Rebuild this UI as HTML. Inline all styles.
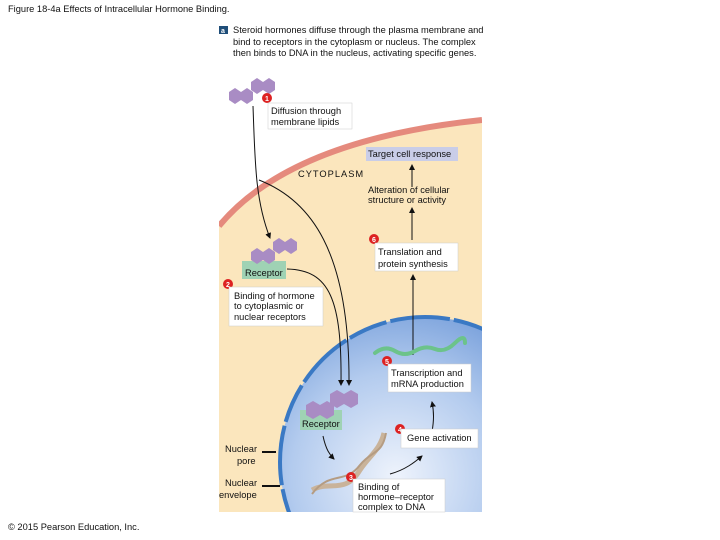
<!DOCTYPE html>
<html><head><meta charset="utf-8"><style>
html,body{margin:0;width:720px;height:540px;background:#fff;overflow:hidden;font-family:"Liberation Sans",sans-serif}
svg{position:absolute;left:0;top:0}
text{font-family:"Liberation Sans",sans-serif;font-size:9.3px;fill:#111}
text.n{font-size:7px;fill:#fff;font-weight:bold}
</style></head><body>
<svg width="720" height="540" viewBox="0 0 720 540">
<defs>
<radialGradient id="nuc" cx="0.4" cy="0.55" r="0.6">
<stop offset="0" stop-color="#eef3fc"/><stop offset="0.6" stop-color="#b3cbee"/><stop offset="1" stop-color="#7ba2dc"/>
</radialGradient>
<clipPath id="pan"><rect x="219" y="100" width="263" height="412"/></clipPath>
<marker id="ar" markerWidth="6" markerHeight="6" refX="5" refY="3" orient="auto"><path d="M0,0 L6,3 L0,6 z" fill="#111"/></marker>
</defs>
<text x="8" y="12">Figure 18-4a Effects of Intracellular Hormone Binding.</text>
<rect x="219" y="26" width="9" height="8" fill="#1f4e79"/><text class="n" x="221" y="33">a</text>
<text x="233" y="33">Steroid hormones diffuse through the plasma membrane and</text>
<text x="233" y="45">bind to receptors in the cytoplasm or nucleus. The complex</text>
<text x="233" y="56">then binds to DNA in the nucleus, activating specific genes.</text>
<g clip-path="url(#pan)">
<path d="M219,226 Q290,140 482,120 L482,512 L219,512 Z" fill="#fbe6bd"/>
<path d="M219,226 Q290,140 482,120" fill="none" stroke="#e58a7d" stroke-width="6"/>
<circle cx="425" cy="462" r="145" fill="url(#nuc)"/>
<circle cx="425" cy="462" r="145" fill="none" stroke="#3a79c4" stroke-width="4" stroke-dasharray="60 4 40 4"/>
</g>
<g fill="#a98cc4">
<polygon points="229,92 235,88 241,92 241,100 235,104 229,100"/>
<polygon points="241,92 247,88 253,92 253,100 247,104 241,100"/>
<polygon points="251,82 257,78 263,82 263,90 257,94 251,90"/>
<polygon points="263,82 269,78 275,82 275,90 269,94 263,90"/>
</g>
<circle cx="267" cy="98" r="5" fill="#d22"/><text class="n" x="265" y="101">1</text>
<rect x="268" y="103" width="84" height="26" fill="#fff" stroke="#ccc" stroke-width="0.5"/>
<text x="271" y="114">Diffusion through</text><text x="271" y="125">membrane lipids</text>
<rect x="366" y="147" width="92" height="14" fill="#c9cde8"/><text x="368" y="157">Target cell response</text>
<text x="298" y="177" letter-spacing="1">CYTOPLASM</text>
<text x="368" y="193">Alteration of cellular</text><text x="368" y="203">structure or activity</text>
<line x1="412" y1="187" x2="412" y2="165" stroke="#111" marker-end="url(#ar)"/>
<line x1="412" y1="240" x2="412" y2="208" stroke="#111" marker-end="url(#ar)"/>
<circle cx="374" cy="239" r="5" fill="#d22"/><text class="n" x="372" y="242">6</text>
<rect x="375" y="243" width="83" height="28" fill="#fff" stroke="#ccc" stroke-width="0.5"/>
<text x="378" y="255">Translation and</text><text x="378" y="267">protein synthesis</text>
<line x1="413" y1="355" x2="413" y2="275" stroke="#111" marker-end="url(#ar)"/>
<path d="M253,106 C255,160 255,200 270,238" fill="none" stroke="#111" marker-end="url(#ar)"/>
<path d="M259,180 C310,200 350,250 349,385" fill="none" stroke="#111" marker-end="url(#ar)"/>
<path d="M287,269 C330,270 342,300 341,385" fill="none" stroke="#111" marker-end="url(#ar)"/>
<rect x="242" y="261" width="44" height="18" fill="#9fd2b4"/>
<g fill="#a98cc4">
<polygon points="251,252 257,248 263,252 263,260 257,264 251,260"/>
<polygon points="263,252 269,248 275,252 275,260 269,264 263,260"/>
<polygon points="273,242 279,238 285,242 285,250 279,254 273,250"/>
<polygon points="285,242 291,238 297,242 297,250 291,254 285,250"/>
</g>
<text x="245" y="276">Receptor</text>
<circle cx="228" cy="284" r="5" fill="#d22"/><text class="n" x="226" y="287">2</text>
<rect x="229" y="287" width="94" height="39" fill="#fff" stroke="#ccc" stroke-width="0.5"/>
<text x="234" y="299">Binding of hormone</text><text x="234" y="309">to cytoplasmic or</text><text x="234" y="320">nuclear receptors</text>
<path d="M375,353 q10,-8 20,-2 t20,0 t20,-2 t20,-6 t10,0" fill="none" stroke="#6cc38a" stroke-width="4" stroke-linecap="round"/>
<circle cx="387" cy="361" r="5" fill="#d22"/><text class="n" x="385" y="364">5</text>
<rect x="388" y="364" width="83" height="28" fill="#fff" stroke="#ccc" stroke-width="0.5"/>
<text x="391" y="376">Transcription and</text><text x="391" y="387">mRNA production</text>
<rect x="300" y="410" width="42" height="20" fill="#9fd2b4"/>
<g fill="#a98cc4">
<polygon points="306,405 313,401 320,405 320,415 313,419 306,415"/>
<polygon points="320,405 327,401 334,405 334,415 327,419 320,415"/>
<polygon points="330,394 337,390 344,394 344,404 337,408 330,404"/>
<polygon points="344,394 351,390 358,394 358,404 351,408 344,404"/>
</g>
<text x="302" y="427">Receptor</text>
<path d="M323,436 C326,450 330,455 334,459" fill="none" stroke="#111" marker-end="url(#ar)"/>
<path d="M312,490 C330,480 345,495 360,470 C370,455 380,450 384,433" fill="none" stroke="#c9b39a" stroke-width="5"/>
<path d="M312,494 C330,470 345,485 360,465 C372,450 382,455 386,433" fill="none" stroke="#b59c82" stroke-width="2"/>
<path d="M390,474 C405,470 415,462 422,456" fill="none" stroke="#111" marker-end="url(#ar)"/>
<path d="M432,432 C434,420 434,412 432,402" fill="none" stroke="#111" marker-end="url(#ar)"/>
<circle cx="400" cy="429" r="5" fill="#d22"/><text class="n" x="398" y="432">4</text>
<rect x="401" y="429" width="77" height="19" fill="#fff" stroke="#ccc" stroke-width="0.5"/>
<text x="407" y="441">Gene activation</text>
<circle cx="351" cy="477" r="5" fill="#d22"/><text class="n" x="349" y="480">3</text>
<rect x="353" y="479" width="92" height="33" fill="#fff" stroke="#ccc" stroke-width="0.5"/>
<text x="358" y="490">Binding of</text><text x="358" y="500">hormone–receptor</text><text x="358" y="510">complex to DNA</text>
<text x="225" y="452">Nuclear</text><text x="237" y="464">pore</text>
<line x1="262" y1="452" x2="276" y2="452" stroke="#111" stroke-width="2"/>
<text x="225" y="486">Nuclear</text><text x="219" y="498">envelope</text>
<line x1="262" y1="486" x2="280" y2="486" stroke="#111" stroke-width="2"/>
<text x="8" y="530">© 2015 Pearson Education, Inc.</text>
</svg>
</body></html>
